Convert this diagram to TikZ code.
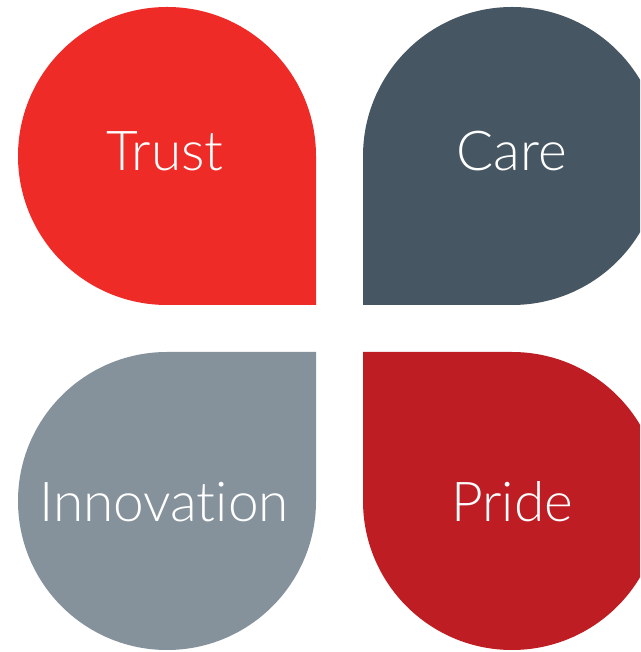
\documentclass[tikz,border=0pt]{standalone}
\usepackage{fontspec}
\setmainfont{Lato}[UprightFont=* Light, Ligatures=NoCommon]
\definecolor{trustred}{HTML}{EE2B27}
\definecolor{careslate}{HTML}{465662}
\definecolor{innovgrey}{HTML}{85929C}
\definecolor{pridered}{HTML}{BE1D23}
\begin{document}
\begin{tikzpicture}[x=1pt, y=1pt,
	label/.style={text=white, inner sep=0pt, font=\fontsize{55}{62}\selectfont}]
	\useasboundingbox (0,0) rectangle (640,652);
	\clip (0,0) rectangle (640,652);
	% four petals
	\fill[trustred] (316,347) -- (316,496) arc[start angle=0, end angle=270, radius=149] -- cycle;
	\fill[careslate] (363,347) -- (512,347) arc[start angle=-90, end angle=180, radius=149] -- cycle;
	\fill[innovgrey] (316,300) -- (167,300) arc[start angle=90, end angle=360, radius=149] -- cycle;
	\fill[pridered] (363,300) -- (363,151) arc[start angle=180, end angle=450, radius=149] -- cycle;
	% labels
	\node[label] (trust) at (165,501) {Trust};
	\node[label] (care) at (512,501) {Care};
	\node[label] (innov) at (164,150) {Innovation};
	\node[label] (pride) at (512,150) {Pride};
\end{tikzpicture}
\end{document}
